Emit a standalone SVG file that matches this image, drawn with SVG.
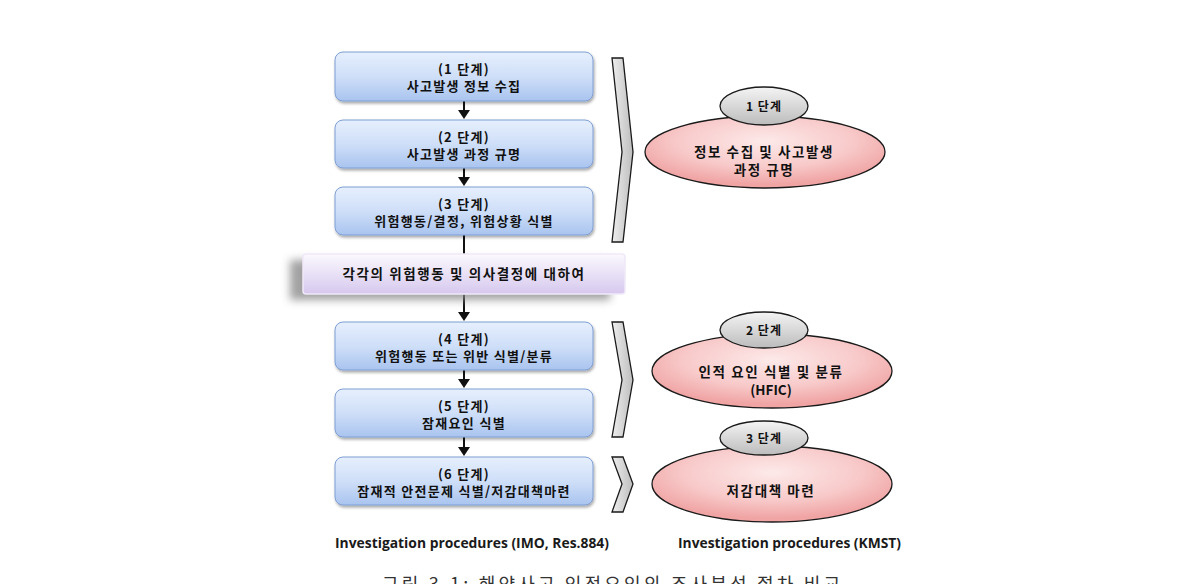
<svg xmlns="http://www.w3.org/2000/svg" width="1190" height="584" viewBox="0 0 1190 584">
<style>
.kt{font-family:"Noto Sans CJK KR","Noto Sans",sans-serif;font-weight:bold;fill:#111;text-anchor:middle}
.bt{font-size:13px;letter-spacing:1.3px}
.pt{font-size:13.5px;letter-spacing:1.6px}
.gt{font-size:12px;letter-spacing:1px}
.box{fill:url(#gBlue);stroke:#7f9fd3;stroke-width:1;filter:url(#sh)}
.chev{fill:url(#gChev);stroke:#1a1a1a;stroke-width:1.3}
.pink{fill:url(#gPink);stroke:#1a1a1a;stroke-width:1.3}
.gray{fill:url(#gGray);stroke:#1a1a1a;stroke-width:1.3}
.ln{stroke:#111;stroke-width:2;fill:none}
.hd{fill:#111}
.lab{font-family:"Open Sans","Liberation Sans",sans-serif;font-weight:bold;font-size:13.5px;fill:#1a1a1a}
</style>
<defs>
<linearGradient id="gBlue" x1="0" y1="0" x2="0" y2="1">
<stop offset="0" stop-color="#e6effd"/><stop offset="0.5" stop-color="#cfdff8"/><stop offset="1" stop-color="#a9c4ef"/>
</linearGradient>
<linearGradient id="gPurp" x1="0" y1="0" x2="0" y2="1">
<stop offset="0" stop-color="#fbf9fe"/><stop offset="1" stop-color="#d6c8ee"/>
</linearGradient>
<linearGradient id="gChev" x1="0" y1="0" x2="1" y2="0">
<stop offset="0" stop-color="#eeeeee"/><stop offset="1" stop-color="#bdbdbd"/>
</linearGradient>
<radialGradient id="gPink" cx="0.5" cy="0.35" r="0.6">
<stop offset="0" stop-color="#fde9e9"/><stop offset="0.6" stop-color="#f8caca"/><stop offset="1" stop-color="#f0a4a4"/>
</radialGradient>
<linearGradient id="gGray" x1="0" y1="0" x2="0" y2="1">
<stop offset="0" stop-color="#f4f4f4"/><stop offset="1" stop-color="#bcbcbc"/>
</linearGradient>
<filter id="sh" x="-10%" y="-20%" width="120%" height="150%">
<feGaussianBlur in="SourceAlpha" stdDeviation="1.5"/>
<feOffset dx="1" dy="2" result="b"/>
<feComponentTransfer><feFuncA type="linear" slope="0.35"/></feComponentTransfer>
<feMerge><feMergeNode/><feMergeNode in="SourceGraphic"/></feMerge>
</filter>
<filter id="bl" x="-20%" y="-50%" width="140%" height="200%">
<feGaussianBlur stdDeviation="4"/>
</filter>
</defs>
<rect width="1190" height="584" fill="#ffffff"/>

<g id="connectors">
<line class="ln" x1="464" y1="101" x2="464" y2="112"/>
<polygon class="hd" points="458,110 470,110 464,119"/>
<line class="ln" x1="464" y1="168" x2="464" y2="179"/>
<polygon class="hd" points="458,177 470,177 464,186"/>
<line class="ln" x1="464" y1="235" x2="464" y2="254"/>
<line class="ln" x1="464" y1="294" x2="464" y2="314"/>
<polygon class="hd" points="458,312 470,312 464,321"/>
<line class="ln" x1="464" y1="370" x2="464" y2="381"/>
<polygon class="hd" points="458,379 470,379 464,388"/>
<line class="ln" x1="464" y1="437" x2="464" y2="449"/>
<polygon class="hd" points="458,447 470,447 464,456"/>
</g>

<g id="step1"><rect class="box" x="335" y="52" width="258" height="49" rx="8"/>
<text class="kt bt" x="464" y="74">(1 단계)</text><text class="kt bt" x="464" y="91">사고발생 정보 수집</text></g>
<g id="step2"><rect class="box" x="335" y="120" width="258" height="48" rx="8"/>
<text class="kt bt" x="464" y="142">(2 단계)</text><text class="kt bt" x="464" y="159">사고발생 과정 규명</text></g>
<g id="step3"><rect class="box" x="335" y="187" width="258" height="48" rx="8"/>
<text class="kt bt" x="464" y="209">(3 단계)</text><text class="kt bt" x="464" y="226">위험행동/결정, 위험상황 식별</text></g>

<g id="each">
<rect x="290" y="260" width="320" height="40" fill="#8a8a8a" filter="url(#bl)" opacity="0.8"/>
<rect x="303" y="254" width="322" height="40" rx="3" fill="url(#gPurp)" stroke="#efe9f8" stroke-width="1.5"/>
<text class="kt pt" x="464" y="279">각각의 위험행동 및 의사결정에 대하여</text>
</g>

<g id="step4"><rect class="box" x="335" y="322" width="258" height="48" rx="8"/>
<text class="kt bt" x="464" y="344">(4 단계)</text><text class="kt bt" x="464" y="361">위험행동 또는 위반 식별/분류</text></g>
<g id="step5"><rect class="box" x="335" y="389" width="258" height="48" rx="8"/>
<text class="kt bt" x="464" y="411">(5 단계)</text><text class="kt bt" x="464" y="428">잠재요인 식별</text></g>
<g id="step6"><rect class="box" x="335" y="457" width="258" height="48" rx="8"/>
<text class="kt bt" x="464" y="479">(6 단계)</text><text class="kt bt" x="464" y="496">잠재적 안전문제 식별/저감대책마련</text></g>

<g id="chevron1"><polygon class="chev" points="612,58 623,58 633,152 623,242 612,242 622,152"/></g>
<g id="chevron2"><polygon class="chev" points="612,322 623,322 633,380 623,437 612,437 622,380"/></g>
<g id="chevron3"><polygon class="chev" points="612,457 623,457 633,484 623,512 612,512 622,484"/></g>

<g id="kmst1">
<ellipse class="pink" cx="765" cy="152" rx="120" ry="36"/>
<ellipse class="gray" cx="764" cy="106" rx="44" ry="19"/>
<text class="kt gt" x="764" y="111">1 단계</text>
<text class="kt pt" x="764" y="157">정보 수집 및 사고발생</text>
<text class="kt pt" x="764" y="175">과정 규명</text>
</g>
<g id="kmst2">
<ellipse class="pink" cx="772" cy="371" rx="120" ry="37"/>
<ellipse class="gray" cx="764" cy="330" rx="44" ry="18"/>
<text class="kt gt" x="764" y="335">2 단계</text>
<text class="kt pt" x="771" y="377">인적 요인 식별 및 분류</text>
<text class="kt" x="771" y="395" font-size="13.5">(HFIC)</text>
</g>
<g id="kmst3">
<ellipse class="pink" cx="772" cy="484" rx="120" ry="38"/>
<ellipse class="gray" cx="764" cy="438" rx="44" ry="17"/>
<text class="kt gt" x="764" y="443">3 단계</text>
<text class="kt pt" x="771" y="496">저감대책 마련</text>
</g>

<text class="lab" x="335" y="548" textLength="274" lengthAdjust="spacingAndGlyphs">Investigation procedures (IMO, Res.884)</text>
<text class="lab" x="678" y="548" textLength="223" lengthAdjust="spacingAndGlyphs">Investigation procedures (KMST)</text>
<text x="611" y="591" font-family="'Noto Sans CJK KR','Noto Sans',sans-serif" font-size="18" fill="#333" text-anchor="middle" textLength="458" lengthAdjust="spacing">그림 3.1: 해양사고 인적요인의 조사분석 절차 비교</text>
</svg>
